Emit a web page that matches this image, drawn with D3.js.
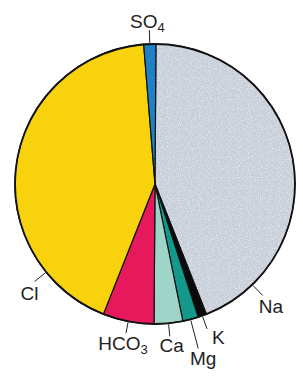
<!DOCTYPE html>
<html>
<head>
<meta charset="utf-8">
<script src="https://cdn.jsdelivr.net/npm/d3@7"></script>
<style>
  body { margin: 0; background: #fff; }
  svg { display: block; }
  text { font-family: "Liberation Sans", Arial, sans-serif; font-size: 19px; fill: #222; }
</style>
</head>
<body>
<svg id="chart"></svg>
<script>
// ions, clockwise from the top
const ions = ["Na", "K", "Mg", "Ca", "HCO3", "Cl", "SO4"];
const shares = [43.9, 1.0, 1.8, 3.3, 5.9, 42.7, 1.4];
const colors = ["#c7ced9", "#0a0a0a", "#14988b", "#9fd5c8", "#e6195c", "#f9d20e", "#1e80c6"];

const width = 303, height = 383;
const cx = 155, cy = 184, r = 140;

// label placement: leader angle (deg, null = slice middle), leader length, text offset
const labelLayout = {
  Na:   { ang: 136, len: 15, dx: -4, dy: 18, anchor: "start" },
  K:    { ang: null, len: 14, dx: 5, dy: 15, anchor: "start" },
  Mg:   { ang: null, len: 30, dx: 5, dy: 17, anchor: "middle" },
  Ca:   { ang: null, len: 13, dx: 2, dy: 16, anchor: "middle" },
  HCO3: { ang: null, len: 12, dx: -3, dy: 17, anchor: "middle" },
  Cl:   { ang: 231, len: 15, dx: -5, dy: 18, anchor: "middle" },
  SO4:  { ang: null, len: 14, dx: -2, dy: -2, anchor: "middle" }
};

const svg = d3.select("#chart")
    .attr("width", width)
    .attr("height", height);

// speckle texture for the sodium slice
const defs = svg.append("defs");
const speck = defs.append("filter").attr("id", "speck")
    .attr("x", 0).attr("y", 0).attr("width", 1).attr("height", 1);
speck.append("feTurbulence")
    .attr("type", "fractalNoise").attr("baseFrequency", 0.9)
    .attr("numOctaves", 1).attr("seed", 3).attr("result", "noise");
speck.append("feColorMatrix").attr("in", "noise").attr("type", "matrix")
    .attr("values", "0 0 0 0 1  0 0 0 0 1  0 0 0 0 1  1.6 0 0 0 -0.75")
    .attr("result", "dots");
speck.append("feComposite").attr("in", "dots").attr("in2", "SourceGraphic")
    .attr("operator", "in").attr("result", "dotsIn");
speck.append("feMerge").selectAll("feMergeNode")
    .data(["SourceGraphic", "dotsIn"]).enter()
    .append("feMergeNode").attr("in", d => d);

const slices = ions.map((id, i) => ({ id, value: shares[i], color: colors[i] }));

const pie = d3.pie()
    .value(d => d.value)
    .sort(null)
    .startAngle(0.4 * Math.PI / 180)
    .endAngle(2 * Math.PI + 0.4 * Math.PI / 180);

const arc = d3.arc().innerRadius(0).outerRadius(r);
const arcs = pie(slices);

const g = svg.append("g").attr("transform", `translate(${cx},${cy})`);

g.selectAll("path.slice")
    .data(arcs)
    .enter()
    .append("path")
    .attr("class", "slice")
    .attr("d", arc)
    .attr("fill", d => d.data.color)
    .attr("filter", d => d.data.id === "Na" ? "url(#speck)" : null)
    .attr("stroke", "#111")
    .attr("stroke-width", 1.2)
    .attr("stroke-linejoin", "round");

g.append("circle")
    .attr("r", r)
    .attr("fill", "none")
    .attr("stroke", "#111")
    .attr("stroke-width", 1.8);

// leaders and labels
function polar(a, rad) {
  return [Math.sin(a) * rad, -Math.cos(a) * rad];
}

g.selectAll("g.label")
    .data(arcs)
    .enter()
    .append("g")
    .attr("class", "label")
    .each(function(d) {
      const L = labelLayout[d.data.id];
      const a = L.ang === null ? (d.startAngle + d.endAngle) / 2 : L.ang * Math.PI / 180;
      const p0 = polar(a, r + 1);
      const p1 = polar(a, r + L.len);
      const sel = d3.select(this);
      sel.append("line")
          .attr("x1", p0[0]).attr("y1", p0[1])
          .attr("x2", p1[0]).attr("y2", p1[1])
          .attr("stroke", "#222")
          .attr("stroke-width", 1);
      const t = sel.append("text")
          .attr("x", p1[0] + L.dx)
          .attr("y", p1[1] + L.dy)
          .attr("text-anchor", L.anchor);
      const m = d.data.id.match(/^([A-Za-z]+?)(\d*)$/);
      t.append("tspan").text(m[1]);
      if (m[2]) {
        t.append("tspan")
            .attr("dy", 4)
            .style("font-size", "13px")
            .text(m[2]);
      }
    });
</script>
</body>
</html>
